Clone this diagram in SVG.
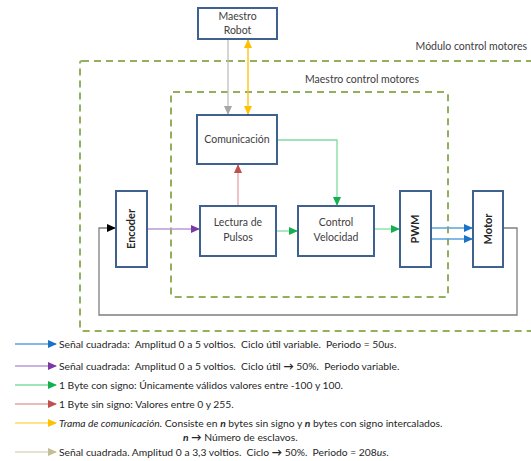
<svg xmlns="http://www.w3.org/2000/svg" width="531" height="461" viewBox="0 0 531 461">
<style>
  .box{fill:#fff;stroke:#3f6190;stroke-width:2}
  .dash{fill:none;stroke:#93b05c;stroke-width:2;stroke-dasharray:7,5}
  .t{font-family:Lato,"Liberation Sans",sans-serif;font-size:10.5px;fill:#404040}
  .tb{font-family:Lato,"Liberation Sans",sans-serif;font-size:11px;fill:#262626;font-weight:bold}
  .lg{font-family:Lato,"Liberation Sans",sans-serif;font-size:10.3px;fill:#262626;white-space:pre}
  .ln{fill:none;stroke-width:1.3}
</style>
<defs>
  <marker id="mBlue" markerUnits="userSpaceOnUse" markerWidth="9" markerHeight="8" refX="8" refY="4" orient="auto"><path d="M0,0L9,4L0,8z" fill="#1a72c9"/></marker>
  <marker id="mPurple" markerUnits="userSpaceOnUse" markerWidth="9" markerHeight="8" refX="8" refY="4" orient="auto"><path d="M0,0L9,4L0,8z" fill="#7a3aa6"/></marker>
  <marker id="mGreen" markerUnits="userSpaceOnUse" markerWidth="9" markerHeight="8" refX="8" refY="4" orient="auto"><path d="M0,0L9,4L0,8z" fill="#14b04e"/></marker>
  <marker id="mRed" markerUnits="userSpaceOnUse" markerWidth="9" markerHeight="8" refX="8" refY="4" orient="auto"><path d="M0,0L9,4L0,8z" fill="#c0504d"/></marker>
  <marker id="mYellow" markerUnits="userSpaceOnUse" markerWidth="9" markerHeight="8" refX="8" refY="4" orient="auto-start-reverse"><path d="M0,0L9,4L0,8z" fill="#ffc000"/></marker>
  <marker id="mGray" markerUnits="userSpaceOnUse" markerWidth="9" markerHeight="8" refX="8" refY="4" orient="auto"><path d="M0,0L9,4L0,8z" fill="#a6a6a6"/></marker>
  <marker id="mBlack" markerUnits="userSpaceOnUse" markerWidth="9" markerHeight="8" refX="8" refY="4" orient="auto"><path d="M0,0L9,4L0,8z" fill="#000"/></marker>
  <marker id="mBeige" markerUnits="userSpaceOnUse" markerWidth="9" markerHeight="8" refX="8" refY="4" orient="auto"><path d="M0,0L9,4L0,8z" fill="#c4bd97"/></marker>
</defs>

<g id="containers">
  <rect class="dash" x="80" y="61" width="460" height="270" rx="2"/>
  <rect class="dash" x="171" y="92" width="277" height="205" rx="2"/>
  <text class="t" x="527" y="50" text-anchor="end">Módulo control motores</text>
  <text class="t" x="305" y="83">Maestro control motores</text>
</g>

<g id="connectors">
  <line class="ln" x1="228" y1="39" x2="228" y2="114" stroke="#bfbfbf" marker-end="url(#mGray)"/>
  <line class="ln" x1="248" y1="40" x2="248" y2="114" stroke="#ffc000" marker-start="url(#mYellow)" marker-end="url(#mYellow)"/>
  <line class="ln" x1="238" y1="206" x2="238" y2="165" stroke="#e6a3a2" marker-end="url(#mRed)"/>
  <polyline class="ln" points="277,140 337,140 337,205" stroke="#7fdca0" marker-end="url(#mGreen)"/>
  <line class="ln" x1="147" y1="229" x2="199" y2="229" stroke="#b99ad8" marker-end="url(#mPurple)"/>
  <line class="ln" x1="276" y1="231" x2="297" y2="231" stroke="#7fdca0" marker-end="url(#mGreen)"/>
  <line class="ln" x1="374" y1="229" x2="399" y2="229" stroke="#7fdca0" marker-end="url(#mGreen)"/>
  <line class="ln" x1="431" y1="228" x2="472" y2="228" stroke="#5aa2e0" marker-end="url(#mBlue)"/>
  <line class="ln" x1="431" y1="239" x2="472" y2="239" stroke="#5aa2e0" marker-end="url(#mBlue)"/>
  <polyline class="ln" points="503,228 517,228 517,315 99,315 99,228 115,228" stroke="#7f7f7f" marker-end="url(#mBlack)"/>
</g>

<g id="maestro-robot">
  <rect class="box" x="198" y="8" width="79" height="31"/>
  <text class="t" x="237.5" y="20" text-anchor="middle">Maestro</text>
  <text class="t" x="237.5" y="34" text-anchor="middle">Robot</text>
</g>
<g id="comunicacion">
  <rect class="box" x="197" y="115" width="80" height="49"/>
  <text class="t" x="237" y="143" text-anchor="middle" font-size="9.5">Comunicación</text>
</g>
<g id="encoder">
  <rect class="box" x="116" y="191" width="31" height="76"/>
  <text class="tb" transform="translate(135,229) rotate(-90)" text-anchor="middle">Encoder</text>
</g>
<g id="lectura">
  <rect class="box" x="200" y="206" width="76" height="50"/>
  <text class="t" x="238" y="226" text-anchor="middle">Lectura de</text>
  <text class="t" x="238" y="241" text-anchor="middle">Pulsos</text>
</g>
<g id="control">
  <rect class="box" x="298" y="206" width="76" height="50"/>
  <text class="t" x="336" y="226" text-anchor="middle">Control</text>
  <text class="t" x="336" y="241" text-anchor="middle">Velocidad</text>
</g>
<g id="pwm">
  <rect class="box" x="400" y="191" width="31" height="76"/>
  <text class="tb" transform="translate(419,229) rotate(-90)" text-anchor="middle">PWM</text>
</g>
<g id="motor">
  <rect class="box" x="473" y="191" width="30" height="76"/>
  <text class="tb" transform="translate(492,229) rotate(-90)" text-anchor="middle">Motor</text>
</g>

<g id="legend">
  <line class="ln" x1="15" y1="344" x2="56" y2="344" stroke="#5aa2e0" marker-end="url(#mBlue)"/>
  <text class="lg" x="59" y="347.5">Señal cuadrada:  Amplitud 0 a 5 voltios.  Ciclo útil variable.  Periodo = 50<tspan font-style="italic">us</tspan>.</text>
  <line class="ln" x1="15" y1="366" x2="56" y2="366" stroke="#b99ad8" marker-end="url(#mPurple)"/>
  <text class="lg" x="59" y="369.5">Señal cuadrada:  Amplitud 0 a 5 voltios.  Ciclo útil <tspan font-weight="bold">→</tspan> 50%.  Periodo variable.</text>
  <line class="ln" x1="15" y1="385" x2="56" y2="385" stroke="#7fdca0" marker-end="url(#mGreen)"/>
  <text class="lg" x="59" y="388.5">1 Byte con signo: Únicamente válidos valores entre -100 y 100.</text>
  <line class="ln" x1="15" y1="404" x2="56" y2="404" stroke="#e6a3a2" marker-end="url(#mRed)"/>
  <text class="lg" x="59" y="407.5">1 Byte sin signo: Valores entre 0 y 255.</text>
  <line class="ln" x1="15" y1="423" x2="56" y2="423" stroke="#ffd966" marker-end="url(#mYellow)"/>
  <text class="lg" x="59" y="426.5"><tspan font-style="italic">Trama de comunicación.</tspan> Consiste en <tspan font-weight="bold" font-style="italic">n</tspan> bytes sin signo y <tspan font-weight="bold" font-style="italic">n</tspan> bytes con signo intercalados.</text>
  <text class="lg" x="183" y="440.5"><tspan font-weight="bold" font-style="italic">n</tspan> <tspan font-weight="bold">→</tspan> Número de esclavos.</text>
  <line class="ln" x1="15" y1="452" x2="56" y2="452" stroke="#ddd9c3" marker-end="url(#mBeige)"/>
  <text class="lg" x="59" y="455.5">Señal cuadrada. Amplitud 0 a 3,3 voltios.  Ciclo <tspan font-weight="bold">→</tspan> 50%.  Periodo = 208<tspan font-style="italic">us</tspan>.</text>
</g>
</svg>
